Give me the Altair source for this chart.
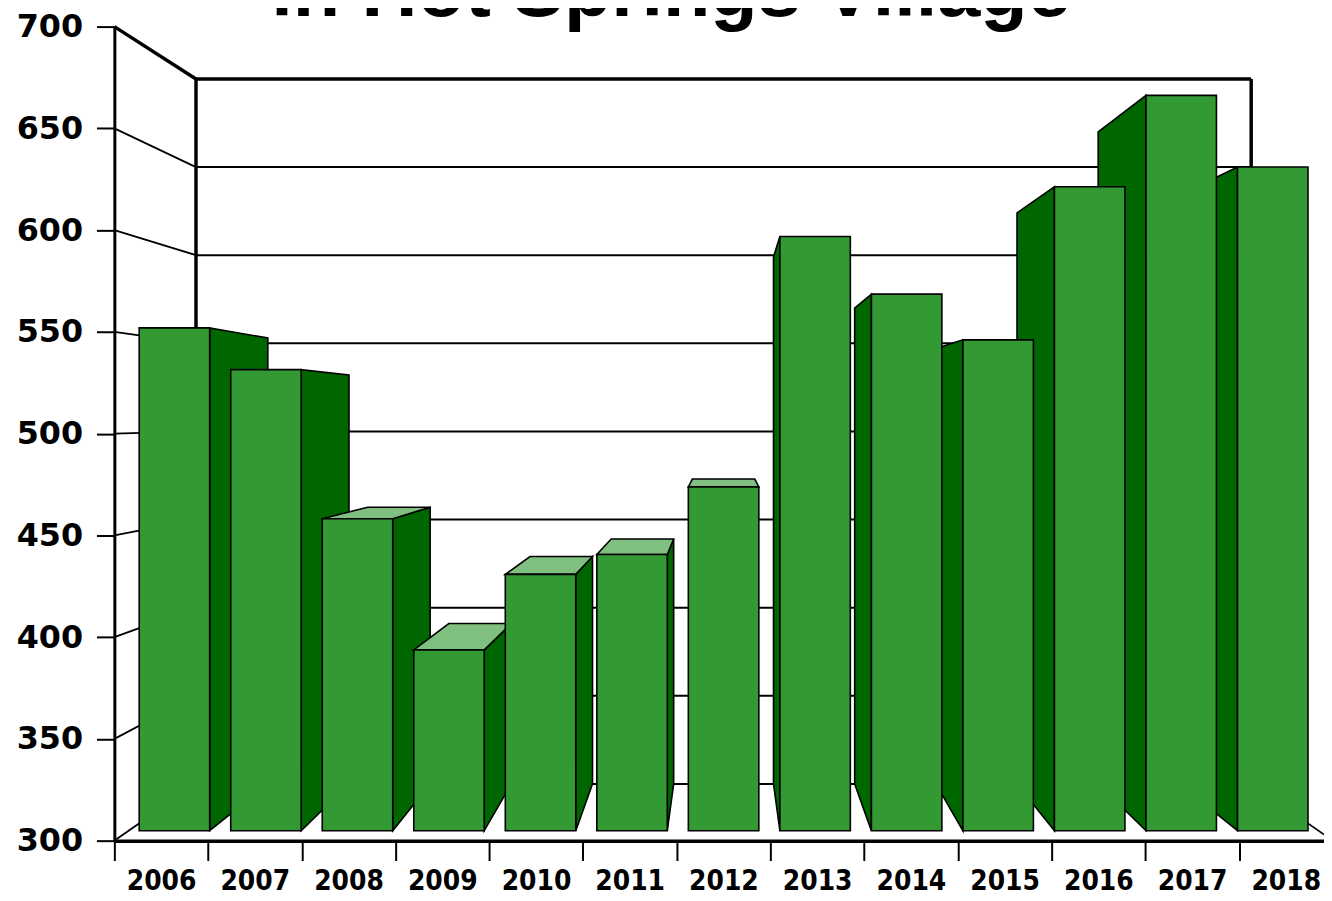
import json
import altair as alt
import pandas as pd

# ---------------- data ----------------
years = [2006, 2007, 2008, 2009, 2010, 2011, 2012, 2013, 2014, 2015, 2016, 2017, 2018]
sales = [553, 532, 457, 391, 429, 439, 473, 599, 570, 547, 624, 670, 634]
y_ticks = [300, 350, 400, 450, 500, 550, 600, 650, 700]
title_text = "in Hot Springs Village"

# ---------------- 3-D view settings ----------------
N = len(years)
VX = N / 2.0          # vanishing point (category units)
VY = 508.0            # vanishing point (value units)
S_FRONT = 0.9765      # scale of bar front faces
S_BACK = 0.866        # scale of back wall / bar back faces
HALF = 0.385          # half bar width (category units)
BASE, TOP = y_ticks[0], y_ticks[-1]
XMAX = 12.906

FRONT_C, SIDE_C, TOP_C = "#339933", "#006600", "#7fbf7f"


def proj(x, v, s):
    return VX + s * (x - VX), VY + s * (v - VY)


def spans(poly):
    xs = sorted(set(round(p[0], 9) for p in poly))
    rows = []
    n = len(poly)
    for x in xs:
        ys = []
        for k in range(n):
            (x1, y1), (x2, y2) = poly[k], poly[(k + 1) % n]
            if abs(x2 - x1) < 1e-9:
                if abs(x - x1) < 1e-6:
                    ys += [y1, y2]
            elif min(x1, x2) - 1e-6 <= x <= max(x1, x2) + 1e-6:
                t = (x - x1) / (x2 - x1)
                ys.append(y1 + t * (y2 - y1))
        rows.append((x, min(ys), max(ys)))
    return rows


xscale = alt.Scale(domain=[0, XMAX], nice=False, zero=False)
yscale = alt.Scale(domain=[BASE, TOP], nice=False, zero=False)

label_expr = "datum.value < %d ? %s[datum.value] : ''" % (N, json.dumps([str(y) for y in years]))

x_axis = alt.Axis(values=list(range(N)), labelExpr=label_expr, title=None, grid=False,
                  domainColor="black", domainWidth=3.5, tickColor="black", tickWidth=2,
                  tickSize=20, labelOffset=47, labelPadding=7,
                  labelFont="'Liberation Sans Narrow', 'DejaVu Sans Condensed', 'Liberation Sans', sans-serif",
                  labelFontWeight="bold", labelFontSize=28, labelColor="black", labelOverlap=False,
                  labelBound=False, labelFlush=False)
y_axis = alt.Axis(values=y_ticks, title=None, grid=False, domainColor="black", domainWidth=3,
                  tickColor="black", tickWidth=2, tickSize=18, labelPadding=14,
                  labelFont="DejaVu Sans", labelFontWeight="bold", labelFontSize=32,
                  labelColor="black", labelBaseline="middle")


def X(field):
    return alt.X(field, scale=xscale, axis=x_axis, title=None)


def Y(field):
    return alt.Y(field, scale=yscale, axis=y_axis, title=None, stack=None)


# ---------------- walls ----------------
def back_pt(x, v):
    return proj(x, v, S_BACK)

xl_w = back_pt(0, BASE)[0]
xr_w = back_pt(N, BASE)[0]

grid_df = pd.DataFrame([{"x": xl_w, "x2": xr_w, "y": back_pt(0, v)[1]} for v in y_ticks[:-1]])
top_df = pd.DataFrame([{"x": xl_w, "x2": xr_w, "y": back_pt(0, TOP)[1]}])
walls_df = pd.DataFrame([
    {"x": xl_w, "y": back_pt(0, BASE)[1], "y2": back_pt(0, TOP)[1]},
    {"x": xr_w, "y": back_pt(0, BASE)[1], "y2": back_pt(0, TOP)[1]},
])
diag_rows = [{"x": 0, "y": v, "x2": xl_w, "y2": back_pt(0, v)[1]} for v in y_ticks[:-1]]
diag_rows.append({"x": N, "y": BASE, "x2": xr_w, "y2": back_pt(N, BASE)[1]})
diag_df = pd.DataFrame(diag_rows)
diag_top_df = pd.DataFrame([{"x": 0, "y": TOP, "x2": xl_w, "y2": back_pt(0, TOP)[1]}])

grid_layer = alt.Chart(grid_df).mark_rule(color="black", strokeWidth=2, clip=True).encode(
    x=X("x:Q"), x2="x2:Q", y=Y("y:Q"))
top_layer = alt.Chart(top_df).mark_rule(color="black", strokeWidth=3.5).encode(
    x=X("x:Q"), x2="x2:Q", y=Y("y:Q"))
walls_layer = alt.Chart(walls_df).mark_rule(color="black", strokeWidth=3.5).encode(
    x=X("x:Q"), y=Y("y:Q"), y2="y2:Q")
diag_layer = alt.Chart(diag_df).mark_rule(color="black", strokeWidth=1.8, clip=True).encode(
    x=X("x:Q"), x2="x2:Q", y=Y("y:Q"), y2="y2:Q")
diag_top_layer = alt.Chart(diag_top_df).mark_rule(color="black", strokeWidth=3.5).encode(
    x=X("x:Q"), x2="x2:Q", y=Y("y:Q"), y2="y2:Q")

# ---------------- title (partly cut off at the top, as in the source) ----------------
title_layer = alt.Chart(pd.DataFrame({"t": [title_text]})).mark_text(
    font="Liberation Sans", fontWeight="bold", fontSize=78, align="center",
    baseline="alphabetic", color="black", clip=False,
).encode(text="t:N", x=alt.value(560), y=alt.value(-11))

# ---------------- bars ----------------
bar_layers = []
order = sorted(range(N), key=lambda i: -abs(i + 0.5 - VX))
for i in order:
    c = i + 0.5
    xl, xr = c - HALF, c + HALF
    val = sales[i]
    faces = []
    if abs(c - VX) > 1e-9:
        xs = xr if c < VX else xl
        faces.append(("side", [proj(xs, BASE, S_FRONT), proj(xs, BASE, S_BACK),
                               proj(xs, val, S_BACK), proj(xs, val, S_FRONT)]))
    if val < VY:
        faces.append(("top", [proj(xl, val, S_FRONT), proj(xr, val, S_FRONT),
                              proj(xr, val, S_BACK), proj(xl, val, S_BACK)]))
    faces.append(("front", [proj(xl, BASE, S_FRONT), proj(xr, BASE, S_FRONT),
                            proj(xr, val, S_FRONT), proj(xl, val, S_FRONT)]))
    rows = []
    for name, poly in faces:
        for x, lo, hi in spans(poly):
            rows.append({"year": years[i], "face": name, "x": x, "lo": lo, "hi": hi})
    df = pd.DataFrame(rows)
    layer = alt.Chart(df).mark_area(stroke="black", strokeWidth=1.6, interpolate="linear",
                                    opacity=1, fillOpacity=1, clip=True).encode(
        x=X("x:Q"),
        y=Y("lo:Q"),
        y2="hi:Q",
        color=alt.Color("face:N", scale=alt.Scale(domain=["front", "side", "top"],
                                                  range=[FRONT_C, SIDE_C, TOP_C]), legend=None),
    )
    bar_layers.append(layer)

chart = alt.layer(grid_layer, diag_layer, top_layer, walls_layer, diag_top_layer, *bar_layers,
                  title_layer).properties(
    width=1217, height=819,
    autosize=alt.AutoSizeParams(type="none"),
    padding={"left": 107, "top": 16, "right": 0, "bottom": 58},
    background="white",
).configure_view(stroke=None)

chart.save("out.html", embed_options={"renderer": "svg", "actions": False})
